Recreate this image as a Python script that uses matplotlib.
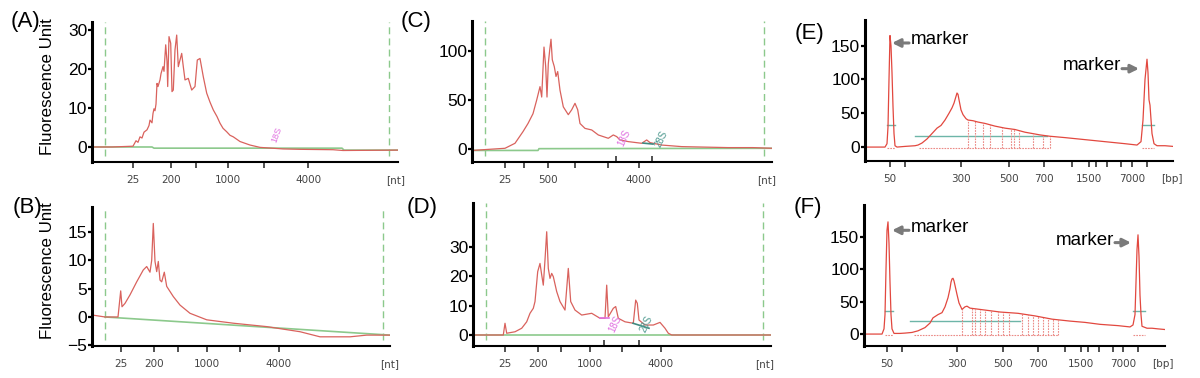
import numpy as np
import matplotlib.pyplot as plt

plt.rcParams['font.family'] = ['Liberation Sans', 'DejaVu Sans']

# ---- (A) small RNA, sample 1 ----
a_t = [0, 20, 41, 44, 46, 48, 50, 52, 55, 57, 58, 60, 61, 62, 63, 64, 65, 66, 68, 69, 71, 72, 73.7,
       75, 75.7, 77, 78.7, 80, 81.3, 83, 84.7, 86.3, 88, 89.7, 91.3, 93, 96.3, 99.7, 103, 105.3, 108,
       111.3, 114.7, 118, 121.3, 125, 128, 131, 134.7, 138, 141.3, 148, 158, 168, 191, 208, 241, 251,
       306]
a_fu = [0, 0, 0.2, 1.6, 1.2, 2.6, 2.3, 3.8, 4.4, 5.5, 6.9, 6.2, 8.6, 9.8, 9.3, 11, 16.3, 15.5, 17.2,
        18.8, 20.6, 19.4, 26.2, 22, 15.5, 28.3, 26.6, 14.2, 14.6, 24.9, 28.7, 20.6, 22.3, 24, 20.6,
        17.2, 17.6, 14.6, 15.5, 22.3, 22.7, 18, 13.8, 11.5, 9.5, 7.8, 6.1, 4.8, 3.9, 3, 2.6, 1.4, 0.5,
        -0.1, -0.5, -0.6, -0.7, -0.9, -0.8]
a_base_t = [0, 60, 62, 250, 252, 306]
a_base_fu = [0, 0, -0.3, -0.3, -0.8, -0.8]
a_ticks = [41, 79, 104, 136, 172, 216]
a_labels = ['25', '200', '', '1000', '', '4000']

# ---- (B) small RNA, sample 2 ----
b_t = [0, 13, 26, 28.7, 30, 33, 38, 44.7, 51.3, 54.7, 58, 59.7, 61.3, 63, 64.7, 66.3, 68, 69.7, 72.3,
       74.7, 78, 81.3, 88, 98, 114.7, 141.3, 174.7, 208, 228, 258, 274.7, 298]
b_fu = [0.35, 0, 0, 4.6, 1.8, 2.4, 3.9, 6.2, 8.3, 8.9, 7.9, 10, 16.5, 9.8, 8, 9.8, 6.5, 6.2, 7.9,
        5.4, 4.5, 3.6, 2.1, 0.65, -0.5, -1.1, -1.7, -2.6, -3.5, -3.5, -3.2, -3.2]
b_base_t = [13, 298]
b_base_fu = [0, -3.2]
b_ticks = [29, 62, 86, 115, 148, 187]
b_labels = ['25', '200', '', '1000', '', '4000']

# ---- (C) total RNA, sample 1 ----
c_t = [0, 33, 43, 51, 56, 61, 64.7, 68, 69.7, 72, 73.7, 75, 76.3, 77.7, 79, 80.3, 82.3, 84, 85.7, 88,
       91.3, 96.3, 99.7, 103, 105.7, 108, 113, 119.7, 126.3, 136.3, 141.3, 144.7, 148, 156.3, 169.7,
       174.7, 178, 189.7, 209.7, 256, 281, 300]
c_fu = [-1.5, 0.7, 5.8, 17.7, 26, 36, 50, 63.6, 53, 104, 84, 53, 87, 101, 112, 91, 84, 74, 79, 60,
        43, 35, 40, 46.6, 40, 26, 21, 19.4, 14.3, 10.9, 14.3, 12.6, 9.2, 7.5, 5.8, 9.2, 6.5, 4, 2.4,
        1.4, 1.4, 0.7]
c_base_t = [0, 66, 67, 300]
c_base_fu = [-1.5, -1.5, 0.3, 0.7]
c_ticks = [33, 52, 76, 103, 136, 167]
c_labels = ['25', '', '500', '', '', '4000']
c_inner = [144, 180]

# ---- (D) total RNA, sample 2 ----
d_t = [0, 30.3, 32, 33.7, 42, 48.7, 53.7, 57, 60.3, 62, 64.7, 67, 68.7, 70.3, 72, 73.7, 75.3, 77,
       78.7, 80.3, 83.7, 87, 92, 95.3, 97.7, 102, 108.7, 118.7, 127, 132, 133.7, 135.3, 140.3, 142.7,
       145.3, 152, 160.3, 162.7, 164.3, 166, 172, 180.3, 187, 192, 195.3, 198.7, 298]
d_fu = [0, 0, 4, 0.6, 1.1, 2.3, 4.5, 7.4, 9.1, 11.4, 21.6, 24.4, 20.5, 17, 25.6, 35.2, 22.7, 19.3, 21,
        19.9, 14.8, 11.4, 8.5, 22.7, 11.4, 8.5, 6.8, 7.4, 5.7, 5.7, 17, 6.2, 9.1, 9.7, 5.7, 4.5, 4,
        11.9, 10.8, 5.1, 3.4, 3.4, 4.3, 2.3, 0.6, 0, 0]
d_base_t = [0, 298]
d_base_fu = [0, 0]
d_ticks = [32, 65, 88, 117, 149, 188]
d_labels = ['25', '200', '', '1000', '', '4000']
d_inner = [131, 166]

# ---- (E) DNA library 1 ----
e_t = [0, 20, 22, 23, 24, 25, 26, 27, 28, 29, 30, 32, 40, 50, 53, 57, 62, 67, 72, 76, 80, 84, 87, 89,
       91, 92, 93, 94, 96, 98, 101, 103, 108, 113, 120, 130, 140, 150, 160, 175, 185, 200, 220, 240,
       260, 272, 276, 278, 280, 282, 283, 284, 285, 287, 289, 292, 300, 308]
e_fu = [0, 0, 5, 30, 100, 165, 150, 110, 60, 20, 2, 0, 1, 2, 3, 6, 12, 20, 28, 32, 40, 50, 58, 65,
        75, 80, 78, 70, 55, 48, 42, 40, 39, 37, 35, 31, 28, 26, 22, 18, 16, 14, 11, 8, 5, 3, 8, 40,
        100, 130, 110, 70, 62, 20, 5, 2, 2, 1]
e_cuts = [103, 110, 118, 125, 137, 146, 149, 154, 168, 178, 185]
e_ticks = [25, 40, 96, 144, 179, 207, 224, 231, 242, 256, 267, 282]
e_labels = ['50', '', '300', '500', '700', '', '1500', '', '', '', '7000', '']

# ---- (F) DNA library 2 ----
f_t = [0, 18, 20, 21, 22, 23, 24, 25, 26, 27, 28, 30, 36, 41, 48, 54, 61, 66, 69, 74, 78, 81, 84, 86,
       87, 88, 89, 90, 91, 93, 95, 98, 101, 103, 106, 111, 121, 136, 154, 171, 188, 206, 221, 236,
       254, 266, 269, 271, 272, 273, 274, 275, 276, 277, 278, 283, 288, 294, 301]
f_fu = [0, 0, 8, 30, 100, 160, 173, 140, 80, 30, 8, 1, 1, 1.5, 2.5, 5, 10, 17, 25, 30, 33, 42, 56,
        70, 80, 85, 86, 82, 75, 61, 48, 38, 42, 43, 40, 39, 37, 34, 32, 28, 23, 20, 18, 15, 13, 11,
        14, 30, 80, 130, 153, 120, 60, 30, 12, 9, 9, 8, 7]
f_cuts = [98, 108, 111, 116, 121, 127, 134, 139, 145, 158, 164, 169, 174, 179, 184, 189, 194]
f_ticks = [23, 38, 93, 139, 174, 201, 217, 224, 235, 249, 259, 274]
f_labels = ['50', '', '300', '500', '700', '', '1500', '', '', '', '7000', '']

W, H = 1200, 378
fig = plt.figure(figsize=(W / 100, H / 100), dpi=100)

RED = '#d9625d'
RED2 = '#e2483f'
DOT = '#eb8a86'
GREEN = '#8cc98c'
TEAL = '#6db5a8'


def box(l, t, r, b):
    # axes rectangle given in pixel edges
    return fig.add_axes([l / W, 1 - b / H, (r - l) / W, (b - t) / H])


def style(ax, xmax, ylim, yticks, xt, xtl, unit, unit_x, inner=None):
    ax.set_xlim(0, xmax)
    ax.set_ylim(*ylim)
    ax.patch.set_alpha(0)
    for s in ['top', 'right']:
        ax.spines[s].set_visible(False)
    ax.spines['left'].set_linewidth(2.2)
    ax.spines['bottom'].set_linewidth(1.5)
    ax.set_yticks(yticks)
    ax.tick_params(axis='y', length=3, width=1.6, pad=0.5, labelsize=12.5)
    ax.set_xticks(xt)
    ax.set_xticklabels(xtl, fontfamily='DejaVu Sans')
    ax.tick_params(axis='x', length=4.5, width=1.1, pad=5, labelsize=7.5,
                   labelcolor='#444444', color='#222222')
    if inner:
        ax.set_xticks(inner, minor=True)
        ax.tick_params(axis='x', which='minor', direction='in', length=4.5,
                       width=1.1, color='#222222')
    ax.annotate(unit, xy=(unit_x, 0), xycoords=('data', 'axes fraction'),
                xytext=(0, -9.5), textcoords='offset points', ha='center',
                va='top', fontsize=7.5, color='#444444', family='DejaVu Sans',
                annotation_clip=False)


def rna(ax, t, fu, bt, bfu, dashes):
    for d in dashes:
        ax.axvline(d, ymin=0.04, ymax=1, color=GREEN, lw=1, ls=(0, (5, 3)))
    ax.plot(bt, bfu, color=GREEN, lw=1.2)
    ax.plot(t, fu, color=RED, lw=0.9)


# (A)
axA = box(92, 22, 398, 162)
rna(axA, a_t, a_fu, a_base_t, a_base_fu, [13, 297])
axA.text(185, 0.8, '18S', color='#e070e0', fontsize=6.5, rotation=70, ha='center', va='bottom')
style(axA, 306, (-3.85, 32.05), [0, 10, 20, 30], a_ticks, a_labels, '[nt]', 304)

# (B)
axB = box(92, 207, 390, 346)
rna(axB, b_t, b_fu, b_base_t, b_base_fu, [13, 291])
style(axB, 298, (-5.12, 19.4), [-5, 0, 5, 10, 15], b_ticks, b_labels, '[nt]', 298)

# (C)
axC = box(472, 21, 772, 162)
rna(axC, c_t, c_fu, c_base_t, c_base_fu, [13, 292])
axC.plot([171, 181], [6, 5], color='#3f8a80', lw=1.2)
axC.text(152, 1, '18S', color='#e070e0', fontsize=7, rotation=65, ha='center', va='bottom')
axC.text(189, 0, '28S', color='#4f9a90', fontsize=7, rotation=65, ha='center', va='bottom')
style(axC, 300, (-13.3, 130.6), [0, 50, 100], c_ticks, c_labels, '[nt]', 295, c_inner)

# (D)
axD = box(473, 203, 771, 346)
rna(axD, d_t, d_fu, d_base_t, d_base_fu, [13, 290])
axD.plot([127, 136], [5.7, 5.7], color='#e070e0', lw=1.2)
axD.plot([160, 176], [4, 2.3], color='#3f8a80', lw=1.2)
axD.text(142, 0.3, '18S', color='#e070e0', fontsize=7, rotation=65, ha='center', va='bottom')
axD.text(173, 0.3, '28S', color='#4f9a90', fontsize=7, rotation=65, ha='center', va='bottom')
style(axD, 298, (-3.75, 45), [0, 10, 20, 30], d_ticks, d_labels, '[nt]', 292, d_inner)


def dna(ax, t, fu, cuts, floor, teal_y, teal_span, marker_teal):
    ax.plot(teal_span, [teal_y, teal_y], color=TEAL, lw=1)
    tops = np.interp(cuts, t, fu)
    ax.vlines(cuts, floor, tops, colors=DOT, lw=0.8, linestyles=(0, (1.5, 1)))
    ax.plot([teal_span[0] + 4, cuts[-1]], [floor, floor], color=DOT, lw=0.8, ls=(0, (1.5, 1)))
    for a, b, yy in marker_teal:
        ax.plot([a, b], [yy, yy], color=TEAL, lw=1)
        ax.plot([a, b], [floor, floor], color=DOT, lw=0.8, ls=(0, (1.5, 1)))
    ax.plot(t, fu, color=RED2, lw=0.9)


def marker(ax, txt_xy, tail, tip, ha):
    ax.text(txt_xy[0], txt_xy[1], 'marker', fontsize=13.5, ha=ha, va='center')
    ax.annotate('', xy=tip, xytext=tail,
                arrowprops=dict(arrowstyle='-|>', color='#7a7a7a', lw=2.2,
                                mutation_scale=12, shrinkA=0, shrinkB=0))


# (E)
axE = box(865, 20, 1173, 161)
dna(axE, e_t, e_fu, e_cuts, -1.5, 16, [50, 182], [(22, 30, 32), (277, 289, 32)])
marker(axE, (46, 159), (44, 154), (27, 154), 'left')
marker(axE, (256, 121), (257, 116), (274, 116), 'right')
style(axE, 308, (-20.6, 188), [0, 50, 100, 150], e_ticks, e_labels, '[bp]', 307)

# (F)
axF = box(864, 205, 1165, 346)
dna(axF, f_t, f_fu, f_cuts, -1, 20, [46, 156], [(21, 29, 35), (269, 281, 35)])
marker(axF, (47, 164), (45, 160), (28, 160), 'left')
marker(axF, (250, 145), (251, 141), (267, 141), 'right')
style(axF, 301, (-18.4, 199), [0, 50, 100, 150], f_ticks, f_labels, '[bp]', 299)

# panel letters and y labels
for lab, x, y in [('(A)', 25, 21), ('(B)', 27, 207), ('(C)', 416, 22),
                  ('(D)', 422, 208), ('(E)', 809, 33), ('(F)', 808, 207)]:
    fig.text(x / W, 1 - y / H, lab, fontsize=16, ha='center', va='center')
for y in [87, 271]:
    fig.text(48 / W, 1 - y / H, 'Fluorescence Unit', fontsize=12.2, rotation=90,
             ha='center', va='center')

fig.savefig('out.png', dpi=100)
